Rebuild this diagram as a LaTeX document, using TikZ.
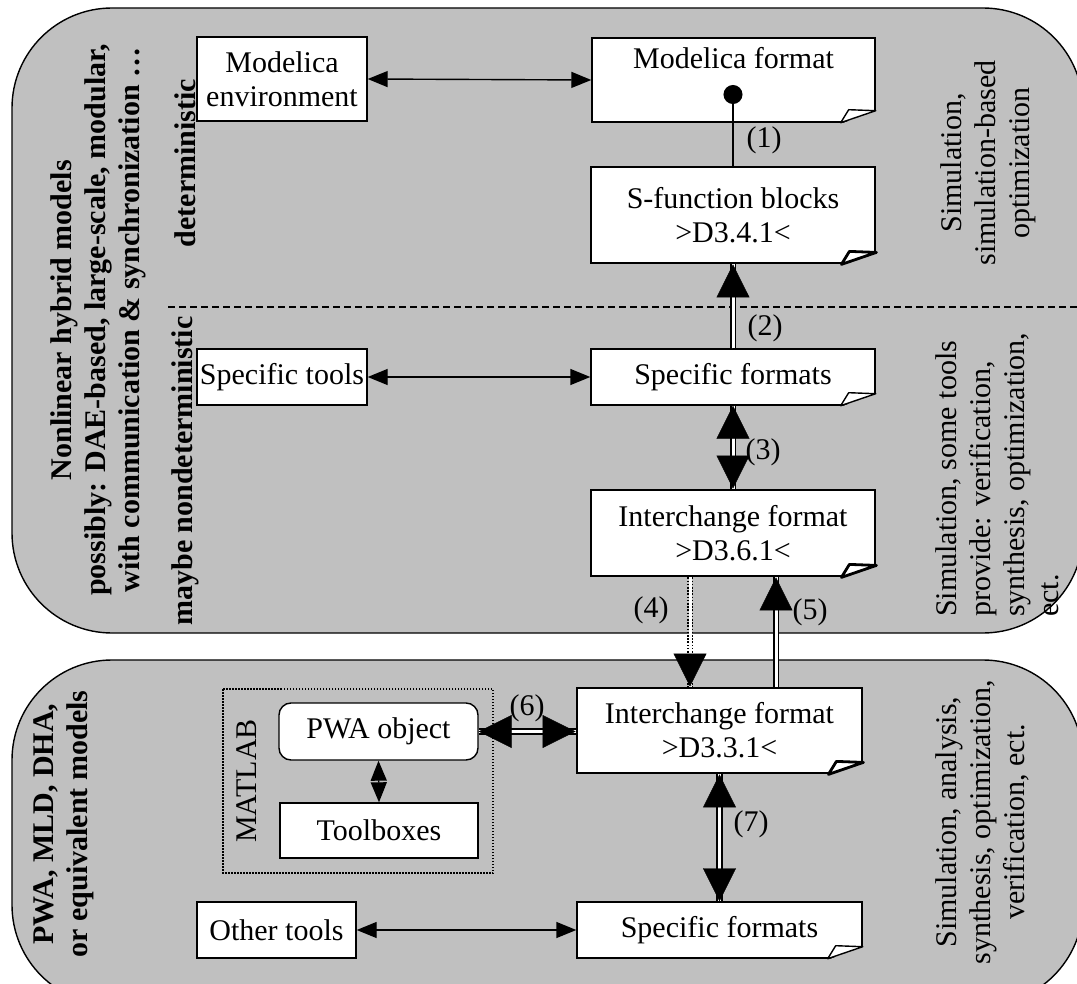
\documentclass[tikz,border=0pt]{standalone}
\usepackage{fontspec}
\setmainfont{Liberation Serif}
\usetikzlibrary{arrows.meta,calc}
\definecolor{panelgray}{HTML}{C0C0C0}
% folded corner at the lower right of a document box
\newcommand\pagecurl[2][1.4pt]{%
  \fill[panelgray] ($(#2.south east)+(-37,2)$) -- ($(#2.south east)+(2,2)$) -- ($(#2.south east)+(2,-13)$) -- cycle;
  \draw[line width=#1,fill=white,line join=round] ($(#2.south east)+(-35,0)$) -- ($(#2.south east)+(-27,-13)$) -- ($(#2.south east)+(0,-12)$) -- cycle;}

\begin{document}
\begin{tikzpicture}[x=1pt,y=-1pt,
  font=\fontsize{30}{34}\selectfont,
  panel/.style={draw,fill=panelgray,line width=1.4pt,rounded corners=100pt},
  box/.style={draw,fill=white,line width=1.4pt,align=center,inner sep=0pt},
  thickbox/.style={box,line width=2.8pt},
  rbox/.style={box,rounded corners=12pt},
  lbl/.style={inner sep=1pt},
  side/.style={rotate=90,align=center,inner sep=0pt},
  sidebf/.style={side,font=\fontsize{30}{34}\selectfont\bfseries},
  smallarr/.style={{Triangle[length=20pt,width=16pt]}-{Triangle[length=20pt,width=16pt]},line width=1.4pt},
  dbl/.style={double=white,double distance=3pt,line width=1.8pt},
  bigtip/.style={draw=white,line width=3pt},
  bigend/.style={bigtip,-{Triangle[length=33pt,width=33pt,line width=0.4pt,color=black]}},
  bigboth/.style={bigtip,{Triangle[length=33pt,width=33pt,line width=0.4pt,color=black]}-{Triangle[length=33pt,width=33pt,line width=0.4pt,color=black]}},
]
  \useasboundingbox (0,0) rectangle (1077,984);
  \clip (0,0) rectangle (1077,984);
  % the two model classes
  \draw[panel] (12,8) rectangle (1083,633);
  \draw[panel] (12,660) rectangle (1083,1005);
  \draw[line width=1.4pt,dash pattern=on 7pt off 4pt] (168,307) -- (1083,307);

  \node[sidebf] (nlh) at (98,320) {Nonlinear hybrid models\\possibly: DAE-based, large-scale, modular,\\with communication \& synchronization …};
  \node[sidebf] (det) at (185,163) {deterministic};
  \node[sidebf] (ndet) at (185,471) {maybe nondeterministic};
  \node[sidebf] (pwam) at (64,824) {PWA, MLD, DHA,\\or equivalent models};
  \node[side] (use1) at (988,163) {Simulation,\\simulation-based\\optimization};
  \node[side,align=left,anchor=west] (use2) at (997,617) {Simulation, some tools\\provide: verification,\\synthesis, optimization,\\ect.};
  \node[side] (use3) at (982,822) {Simulation, analysis,\\synthesis, optimization,\\verification, ect.};

  % boxes
  \node[box,minimum width=170pt,minimum height=84pt] (menv) at (282,79) {Modelica\\environment};
  \node[box,minimum width=283pt,minimum height=84pt] (mfmt) at (733.5,80) {Modelica format\\\strut};
  \node[thickbox,minimum width=284pt,minimum height=96pt] (sfun) at (733,215) {S-function blocks\\>D3.4.1<};
  \node[box,minimum width=170pt,minimum height=56pt] (stool) at (282,377) {Specific tools};
  \node[box,minimum width=284pt,minimum height=56pt] (spfa) at (733,377) {Specific formats};
  \node[thickbox,minimum width=284pt,minimum height=86pt] (ifa) at (733,533) {Interchange format\\>D3.6.1<};
  \node[thickbox,minimum width=285pt,minimum height=85pt] (ifb) at (719.5,730.5) {Interchange format\\>D3.3.1<};
  \node[box,minimum width=285pt,minimum height=56pt] (spfb) at (719.5,930) {Specific formats};
  \node[box,minimum width=159pt,minimum height=56pt] (otool) at (276.5,930) {Other tools};
  \draw[line width=1.2pt,dash pattern=on 1.5pt off 1.5pt] (223,689) rectangle (493,873);
  \node[side] (mlab) at (247,781) {MATLAB};
  \node[rbox,minimum width=199pt,minimum height=57pt] (pwa) at (378.5,731.5) {PWA object};
  \node[box,minimum width=198pt,minimum height=55pt] (tbox) at (379,830.5) {Toolboxes};

  % connectors
  \draw[smallarr] (menv.east) -- (mfmt.west);
  \draw[smallarr] (stool.east) -- (spfa.west);
  \draw[smallarr] (otool.east) -- (spfb.west);
  \draw[smallarr] (pwa.south) -- (tbox.north);
  \coordinate (mdot) at (733,85);
  \draw[line width=1.4pt,{Circle[length=19pt]}-] (mdot) -- (sfun.north);
  \draw[dbl] (spfa.north) -- (sfun.south);
  \draw[bigend] (spfa.north) -- (sfun.south);
  \draw[dbl] (spfa.south) -- (ifa.north);
  \draw[bigboth] (spfa.south) -- (ifa.north);
  \coordinate (cfour) at (690,0);
  \coordinate (cfive) at (776,0);
  \draw[dbl,dash pattern=on 1.6pt off 1.6pt] (ifa.south -| cfour) -- (ifb.north -| cfour);
  \draw[bigend] (ifa.south -| cfour) -- (ifb.north -| cfour);
  \draw[dbl] (ifb.north -| cfive) -- (ifa.south -| cfive);
  \draw[bigend] (ifb.north -| cfive) -- (ifa.south -| cfive);
  \draw[dbl] (pwa.east) -- (pwa.east -| ifb.west);
  \draw[bigboth] (pwa.east) -- (pwa.east -| ifb.west);
  \draw[dbl] (ifb.south) -- (spfb.north);
  \draw[bigboth] (ifb.south) -- (spfb.north);

  \node[lbl] (l1) at (764,140) {(1)};
  \node[lbl] (l2) at (765,328) {(2)};
  \node[lbl] (l3) at (763,452) {(3)};
  \node[lbl] (l4) at (651,610) {(4)};
  \node[lbl] (l5) at (810,612) {(5)};
  \node[lbl] (l6) at (527,708) {(6)};
  \node[lbl] (l7) at (751,824) {(7)};

  \pagecurl{mfmt}
  \pagecurl[2.8pt]{sfun}
  \pagecurl{spfa}
  \pagecurl[2.8pt]{ifa}
  \pagecurl[2.8pt]{ifb}
  \pagecurl{spfb}
\end{tikzpicture}
\end{document}
